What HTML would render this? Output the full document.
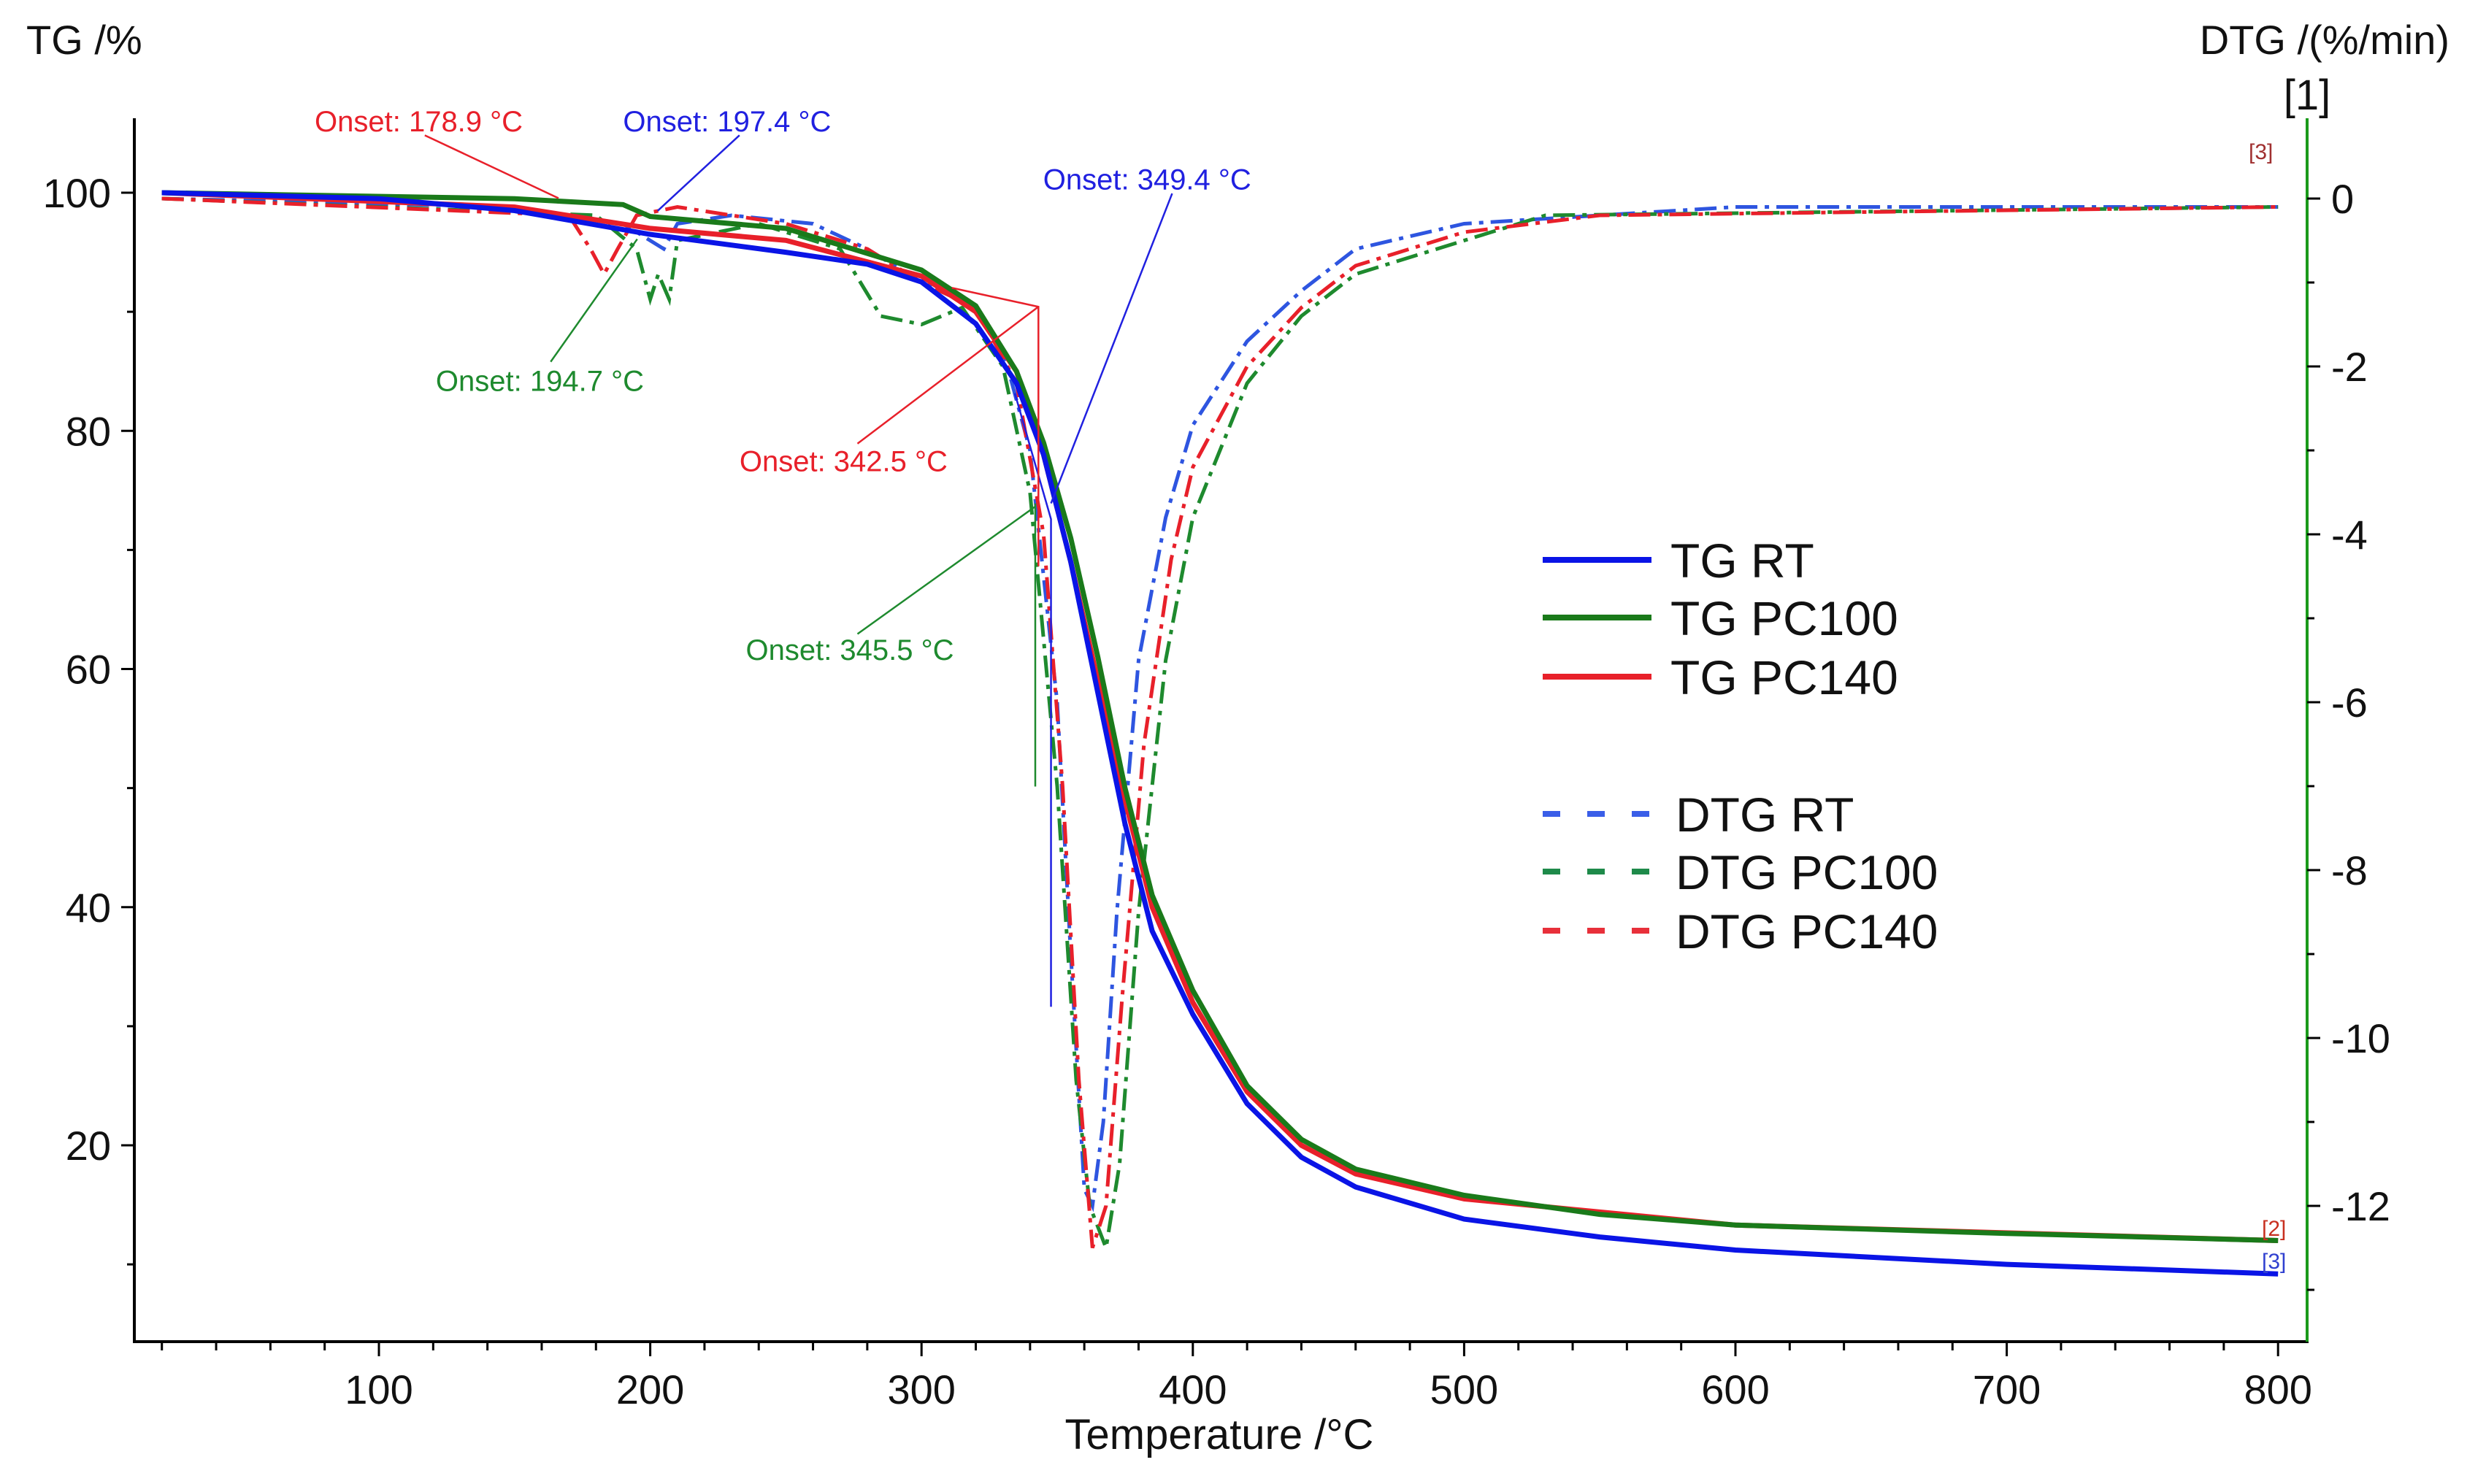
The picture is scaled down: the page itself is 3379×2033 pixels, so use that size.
<!DOCTYPE html>
<html><head><meta charset="utf-8">
<style>
html,body{margin:0;padding:0;background:#fff;}
svg{display:block;font-family:"Liberation Sans",Arial,sans-serif;}
</style></head>
<body>
<svg id="chart" width="3379" height="2033" viewBox="0 0 3379 2033" xmlns="http://www.w3.org/2000/svg">
<rect width="3379" height="2033" fill="#fff"/>
<g id="axes"></g>
<g id="series"></g>
<g id="annot"></g>
<g id="legend"></g>
</svg>
<script>
// ---- data ----
const xTicks = [100,200,300,400,500,600,700,800];
const yLeftTicks = [20,40,60,80,100];
const yRightTicks = [0,-2,-4,-6,-8,-10,-12];

const tgRtT   = [20,100,150,200,250,280,300,320,335,345,355,365,375,385,400,420,440,460,500,550,600,700,800];
const tgRtV   = [100,99.5,98.5,96.5,95,94,92.5,89,84,78,69,58,47,38,31,23.5,19,16.5,13.8,12.3,11.2,10,9.2];
const tgPc100T= [20,150,190,200,250,300,320,335,345,355,365,375,385,400,420,440,460,500,550,600,700,800];
const tgPc100V= [100,99.5,99,98,97,93.5,90.5,85,79,71,61,50,41,33,25,20.5,18,15.8,14.2,13.3,12.6,12];
const tgPc140T= [20,150,200,250,300,320,335,345,355,365,375,385,400,420,440,460,500,600,800];
const tgPc140V= [100,98.8,97,96,93,90,85,78,69,59,49,40,32,24.5,20,17.6,15.5,13.3,12];

const dtgRtT  = [20,150,190,200,205,210,230,260,280,300,310,320,330,340,350,355,360,363,367,372,380,390,400,420,440,460,500,550,600,800];
const dtgRtV  = [0,-0.1,-0.3,-0.5,-0.6,-0.3,-0.2,-0.3,-0.6,-1,-1.1,-1.3,-1.8,-3,-6,-9,-11.8,-12,-11,-8.5,-5.5,-3.8,-2.7,-1.7,-1.1,-0.6,-0.3,-0.2,-0.1,-0.1];
const dtgPc100T=[20,180,195,200,203,207,210,240,270,285,300,315,330,340,350,357,362,368,373,380,390,400,420,440,460,500,530,800];
const dtgPc100V=[0,-0.2,-0.6,-1.2,-0.9,-1.2,-0.5,-0.3,-0.6,-1.4,-1.5,-1.3,-2,-3.5,-7,-10.5,-12,-12.5,-11.5,-8.5,-5.5,-3.8,-2.2,-1.4,-0.9,-0.5,-0.2,-0.1];
const dtgPc140T=[20,170,178,183,188,195,210,250,280,300,320,335,345,352,358,363,368,374,382,392,400,420,440,460,500,550,800];
const dtgPc140V=[0,-0.2,-0.6,-0.9,-0.6,-0.2,-0.1,-0.3,-0.6,-1,-1.3,-2.2,-4,-7,-10.5,-12.5,-12,-9.5,-6.5,-4.3,-3.2,-2,-1.3,-0.8,-0.4,-0.2,-0.1];

// ---- scales ----
const X = t => 519 + (t-100)*3.716;
const YL = v => 264 + (100-v)*16.3125;
const YR = v => 272 - v*115;
const NS = "http://www.w3.org/2000/svg";
function mk(tag, attrs, parent, text){
  const e = document.createElementNS(NS, tag);
  for (const k in attrs) e.setAttribute(k, attrs[k]);
  if (text !== undefined) e.textContent = text;
  parent.appendChild(e);
  return e;
}
const axes = document.getElementById('axes');
const series = document.getElementById('series');
const annot = document.getElementById('annot');
const legend = document.getElementById('legend');

let e;
e = mk('line',{x1:184,y1:162,x2:184,y2:1840,stroke:'#000','stroke-width':4},axes);
 
e = mk('line',{x1:182,y1:1838,x2:3162,y2:1838,stroke:'#000','stroke-width':4},axes);
 
e = mk('line',{x1:3160,y1:162,x2:3160,y2:1838,stroke:'#1a9a1a','stroke-width':4},axes);
 

for (let t=20; t<=800; t+=20){
  const major = t%100===0;
  e = mk('line',{x1:X(t),y1:1838,x2:X(t),y2:1838+(major?20:12),stroke:'#000','stroke-width':3},axes);
   
}
xTicks.forEach(t=>{
  e = mk('text',{x:X(t),y:1923,'font-size':56,'text-anchor':'middle',fill:'#111'},axes,String(t));
   
});
for (let v=10; v<=100; v+=10){
  const major = v%20===0;
  e = mk('line',{x1:184-(major?18:10),y1:YL(v),x2:184,y2:YL(v),stroke:'#000','stroke-width':3},axes);
   
}
yLeftTicks.forEach(v=>{
  e = mk('text',{x:152,y:YL(v)+20,'font-size':56,'text-anchor':'end',fill:'#111'},axes,String(v));
   
});
for (let v=0; v>=-13; v-=1){
  const major = v%2===0;
  e = mk('line',{x1:3160,y1:YR(v),x2:3160+(major?18:10),y2:YR(v),stroke:'#000','stroke-width':3},axes);
   
}
yRightTicks.forEach(v=>{
  e = mk('text',{x:3193,y:YR(v)+20,'font-size':56,fill:'#111'},axes,String(v));
   
});
e = mk('text',{x:36,y:74,'font-size':56,fill:'#111'},axes,'TG /%');
 
e = mk('text',{x:3355,y:74,'font-size':56,'text-anchor':'end',fill:'#111'},axes,'DTG /(%/min)');
 
e = mk('text',{x:3160,y:150,'font-size':58,'text-anchor':'middle',fill:'#111'},axes,'[1]');
 
e = mk('text',{x:1670,y:1985,'font-size':58,'text-anchor':'middle',fill:'#111'},axes,'Temperature /°C');
 

function path(ts, vs, ys){ return ts.map((t,i)=>(i?'L':'M')+X(t).toFixed(1)+','+ys(vs[i]).toFixed(1)).join(' '); }
const DASH = '30 10 6 10';
e = mk('path',{d:path(dtgRtT,dtgRtV,YR),fill:'none',stroke:'#2e55e0','stroke-width':5,'stroke-dasharray':DASH},series);
 
e = mk('path',{d:path(dtgPc100T,dtgPc100V,YR),fill:'none',stroke:'#1e8a2e','stroke-width':5,'stroke-dasharray':DASH},series);
 
e = mk('path',{d:path(dtgPc140T,dtgPc140V,YR),fill:'none',stroke:'#e8202a','stroke-width':5,'stroke-dasharray':DASH},series);
 
e = mk('path',{d:path(tgPc140T,tgPc140V,YL),fill:'none',stroke:'#e8202a','stroke-width':7},series);
 
e = mk('path',{d:path(tgPc100T,tgPc100V,YL),fill:'none',stroke:'#1a7a1a','stroke-width':7},series);
 
e = mk('path',{d:path(tgRtT,tgRtV,YL),fill:'none',stroke:'#0a14e6','stroke-width':7},series);
 

e = mk('text',{x:3098,y:1693,'font-size':30,fill:'#c83020'},annot,'[2]');
 
e = mk('text',{x:3098,y:1738,'font-size':30,fill:'#3040d0'},annot,'[3]');
 
e = mk('text',{x:3080,y:218,'font-size':30,fill:'#a03030'},annot,'[3]');
 

const F=2.155;
function onset(txt,tx,ty,col,lines,name){
  lines.forEach(l=>{
    const q = mk('polyline',{points:l.map(p=>(p[0]*F)+','+(p[1]*F)).join(' '),fill:'none',stroke:col,'stroke-width':2.5},annot);
     
  });
  const t = mk('text',{x:tx*F,y:ty*F+14,'font-size':40,fill:col},annot,txt);
   
}
onset('Onset: 178.9 °C',200,77,'#e8202a',[[[270,86],[355,126]]],'onset-label-178');
onset('Onset: 197.4 °C',396,77,'#2020e0',[[[470,86],[418,134]]],'onset-label-197');
onset('Onset: 349.4 °C',663,114,'#2020e0',[[[745,123],[668,320]],[[645,250],[668,330],[668,640]]],'onset-label-349');
onset('Onset: 194.7 °C',277,242,'#1e8a2e',[[[350,230],[405,152]]],'onset-label-194');
onset('Onset: 342.5 °C',470,293,'#e8202a',[[[545,282],[660,195]],[[605,183],[660,195],[660,360]]],'onset-label-342');
onset('Onset: 345.5 °C',474,413,'#1e8a2e',[[[545,403],[658,322]],[[658,320],[658,500]]],'onset-label-345');

const legItems = [
  ['TG RT','#0a14e6',0,767,'legend-entry-tg-rt'],
  ['TG PC100','#1a7a1a',0,846,'legend-entry-tg-pc100'],
  ['TG PC140','#e8202a',0,927,'legend-entry-tg-pc140'],
  ['DTG RT','#3a5ee8',1,1115,'legend-entry-dtg-rt'],
  ['DTG PC100','#1e8a4a',1,1194,'legend-entry-dtg-pc100'],
  ['DTG PC140','#e8303a',1,1275,'legend-entry-dtg-pc140']
];
legItems.forEach(it=>{
  const g = mk('g',{},legend);
   
  const l = mk('line',{x1:2113,y1:it[3],x2:2262,y2:it[3],stroke:it[1],'stroke-width':8,'stroke-dasharray':it[2]?'24 37':'none'},g);
   
  const t = mk('text',{x:it[2]?2295:2288,y:it[3]+24,'font-size':66,fill:'#111'},g,it[0]);
   
});
</script>
</body></html>
